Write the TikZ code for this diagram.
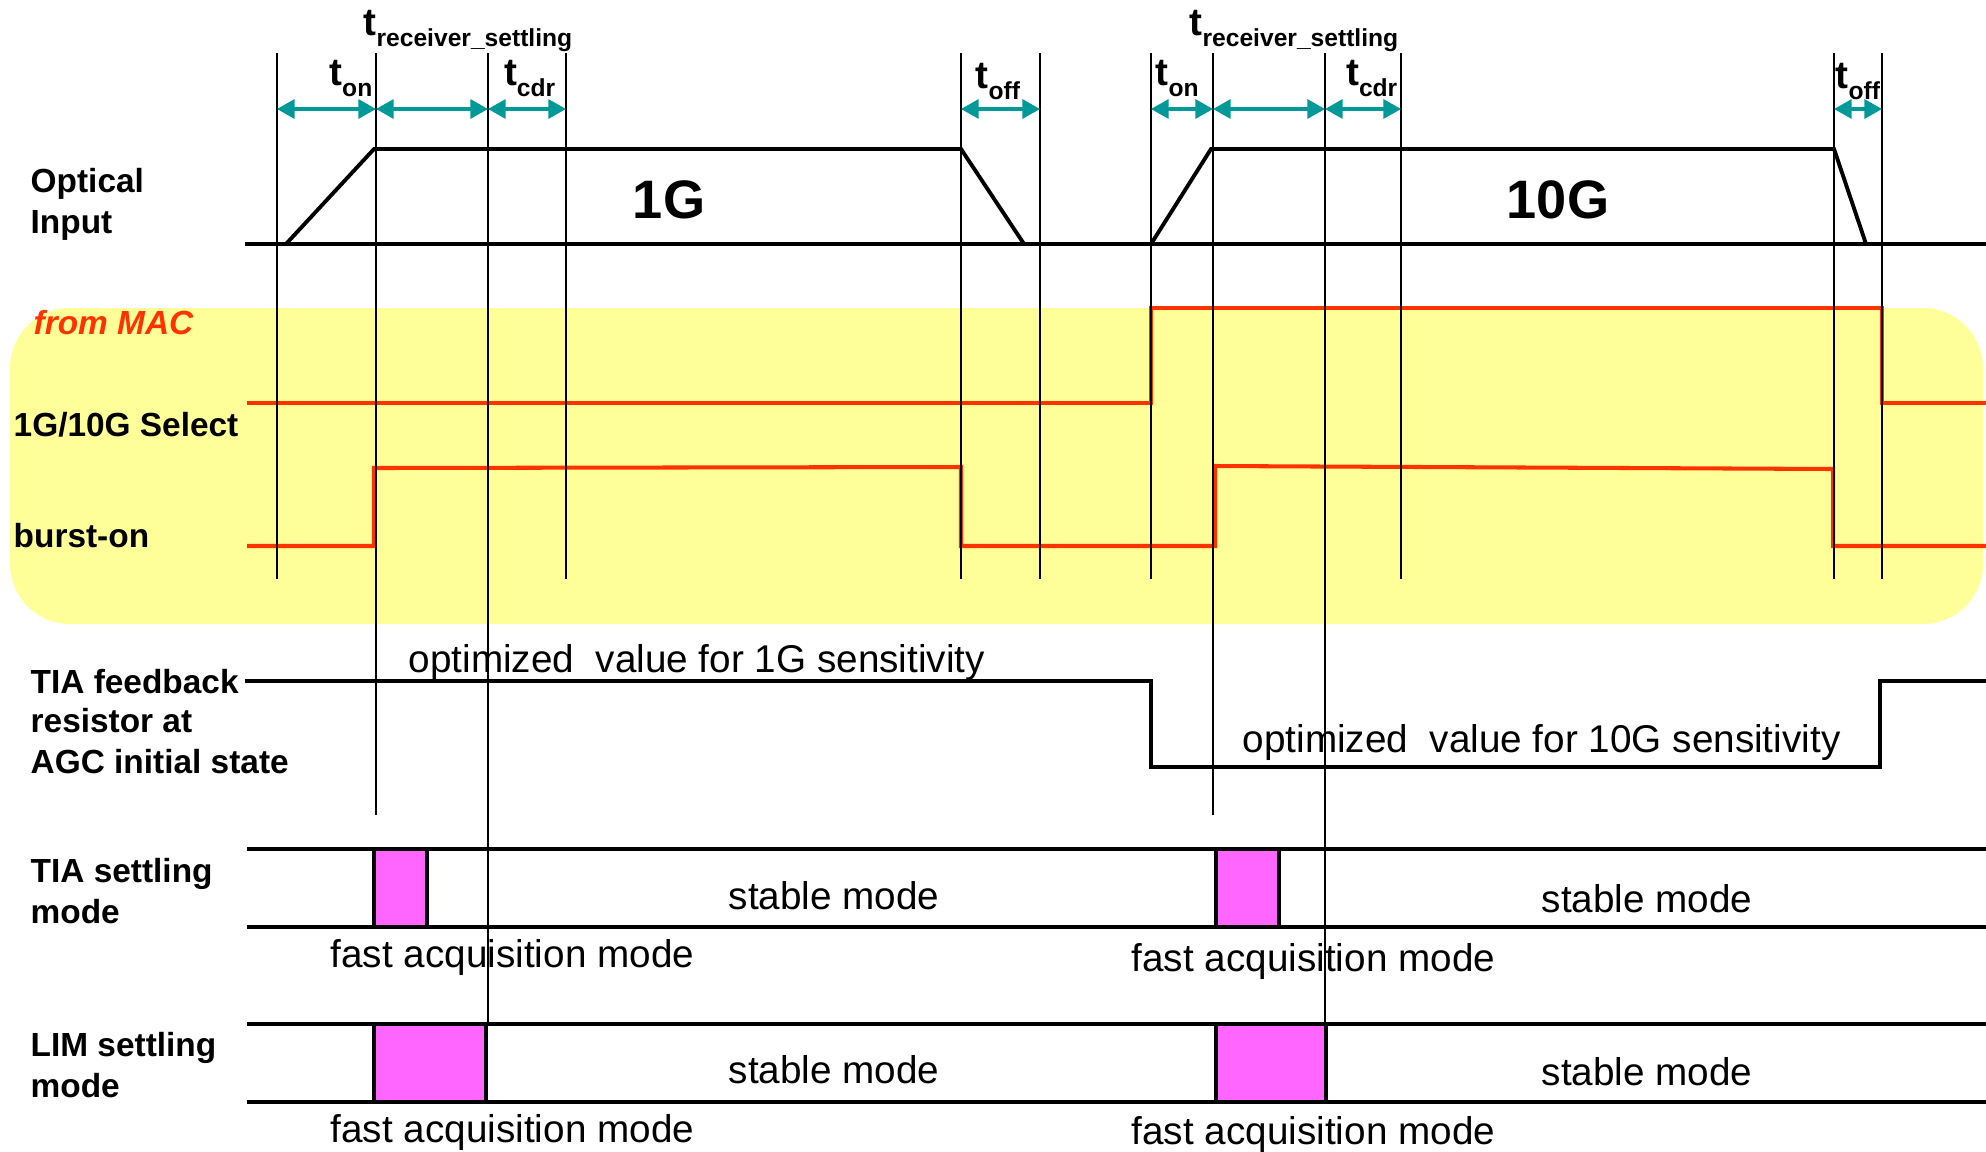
\documentclass[tikz,border=0pt]{standalone}
\usepackage{fontspec}
\setmainfont{Liberation Sans}
\usepackage{xcolor}
\usepackage{tikz}
\usetikzlibrary{arrows.meta}

\definecolor{macred}{RGB}{255,51,0}
\definecolor{spanteal}{RGB}{0,153,153}
\definecolor{macyellow}{RGB}{255,255,153}
\definecolor{acqpink}{RGB}{255,102,255}

% t with a lowered subscript
\newcommand{\tsub}[1]{{\fontsize{11}{12}\selectfont\bfseries t}\raisebox{-3.4pt}{\fontsize{7}{8}\selectfont\bfseries #1}}

\begin{document}
\begin{tikzpicture}[x=0.01cm,y=-0.01cm,
	sig/.style={line width=1.1pt},
	macsig/.style={line width=1.15pt,macred},
	marker/.style={line width=0.45pt},
	span/.style={line width=0.9pt,spanteal,{Triangle[length=5pt,width=5.4pt]}-{Triangle[length=5pt,width=5.4pt]}},
	lbl/.style={font=\fontsize{9.5}{11}\selectfont\bfseries,inner sep=0pt,anchor=base west},
	txt/.style={font=\fontsize{11}{13}\selectfont,inner sep=0pt,anchor=base west},
	tlbl/.style={inner sep=0pt},
	acq/.style={draw,line width=1.1pt,fill=acqpink}]
		\useasboundingbox (0,0) rectangle (1986,1151);
		% signals from the MAC
		\fill[macyellow,rounded corners=0.6cm] (10,308) rectangle (1983,624);
		\draw[macsig] (247,403) -- (1151,403) -- (1151,308) -- (1882,308) -- (1882,403) -- (1986,403);
		\draw[macsig] (247,546) -- (374,546) -- (374,468) -- (961,467) -- (961,546) -- (1215,546) -- (1215,466) -- (1833,469) -- (1833,546) -- (1986,546);
		% time markers
		\foreach \x in {277,566,961,1040,1151,1401,1834,1882}
			\draw[marker] (\x,53) -- (\x,579);
		\foreach \x in {376,1213}
			\draw[marker] (\x,53) -- (\x,815);
		\foreach \x in {488,1325}
			\draw[marker] (\x,53) -- (\x,1023);
		\foreach \a/\b in {277/376,376/488,488/566,961/1040,1151/1213,1213/1325,1325/1401,1834/1882}
			\draw[span] (\a,109) -- (\b,109);
		\node[tlbl,anchor=base east] (ton1) at (373,85) {\tsub{on}};
		\node[tlbl,anchor=base west] (trs1) at (363,35) {\tsub{receiver\_settling}};
		\node[tlbl,anchor=base east] (tcdr1) at (556,85) {\tsub{cdr}};
		\node[tlbl,anchor=base west] (toff1) at (975,88) {\tsub{off}};
		\node[tlbl,anchor=base west] (ton2) at (1155,85) {\tsub{on}};
		\node[tlbl,anchor=base west] (trs2) at (1189,35) {\tsub{receiver\_settling}};
		\node[tlbl,anchor=base east] (tcdr2) at (1398,85) {\tsub{cdr}};
		\node[tlbl,anchor=base west] (toff2) at (1835,88) {\tsub{off}};
		% optical input
		\draw[sig] (245,244) -- (1986,244);
		\draw[sig] (286,244) -- (374,149) -- (961,149) -- (1024,244);
		\draw[sig] (1151,244) -- (1211,149) -- (1834,149) -- (1866,244);
		\node[inner sep=0pt,anchor=base,font=\fontsize{15.4}{17}\selectfont\bfseries] (rate1) at (669,218) {1G};
		\node[inner sep=0pt,anchor=base,font=\fontsize{15.4}{17}\selectfont\bfseries] (rate10) at (1558,218) {10G};
		% TIA feedback resistor
		\draw[sig] (245,681) -- (1151,681) -- (1151,767) -- (1880,767) -- (1880,681) -- (1986,681);
		\node[txt] (opt1) at (408,672) {optimized\ \ value for 1G sensitivity};
		\node[txt] (opt10) at (1242,752) {optimized\ \ value for 10G sensitivity};
		% settling modes
		\draw[sig] (247,849) -- (1986,849);
		\draw[sig] (247,927) -- (1986,927);
		\draw[acq] (374,849) rectangle (427,927);
		\draw[acq] (1216,849) rectangle (1279,927);
		\draw[sig] (247,1024) -- (1986,1024);
		\draw[sig] (247,1102) -- (1986,1102);
		\draw[acq] (374,1024) rectangle (486,1102);
		\draw[acq] (1216,1024) rectangle (1326,1102);
		\node[txt] (tiast1) at (728,909) {stable mode};
		\node[txt] (tiast2) at (1541,912) {stable mode};
		\node[txt] (tiafa1) at (330,967) {fast acquisition mode};
		\node[txt] (tiafa2) at (1131,971) {fast acquisition mode};
		\node[txt] (limst1) at (728,1083) {stable mode};
		\node[txt] (limst2) at (1541,1085) {stable mode};
		\node[txt] (limfa1) at (330,1142) {fast acquisition mode};
		\node[txt] (limfa2) at (1131,1144) {fast acquisition mode};
		% row labels
		\node[lbl] (optin) at (30,192) {Optical};
		\node[lbl] (optinb) at (30,233) {Input};
		\node[lbl,macred,font=\fontsize{9.5}{11}\selectfont\bfseries\itshape] (mac) at (33,334) {from MAC};
		\node[lbl] (sel) at (13,436) {1G/10G Select};
		\node[lbl] (burst) at (13,547) {burst-on};
		\node[lbl] (fb) at (30,693) {TIA feedback};
		\node[lbl] (fbb) at (30,732) {resistor at};
		\node[lbl] (fbc) at (30,773) {AGC initial state};
		\node[lbl] (tia) at (30,882) {TIA settling};
		\node[lbl] (tiab) at (30,923) {mode};
		\node[lbl] (lim) at (30,1056) {LIM settling};
		\node[lbl] (limb) at (30,1097) {mode};
	\end{tikzpicture}
\end{document}
